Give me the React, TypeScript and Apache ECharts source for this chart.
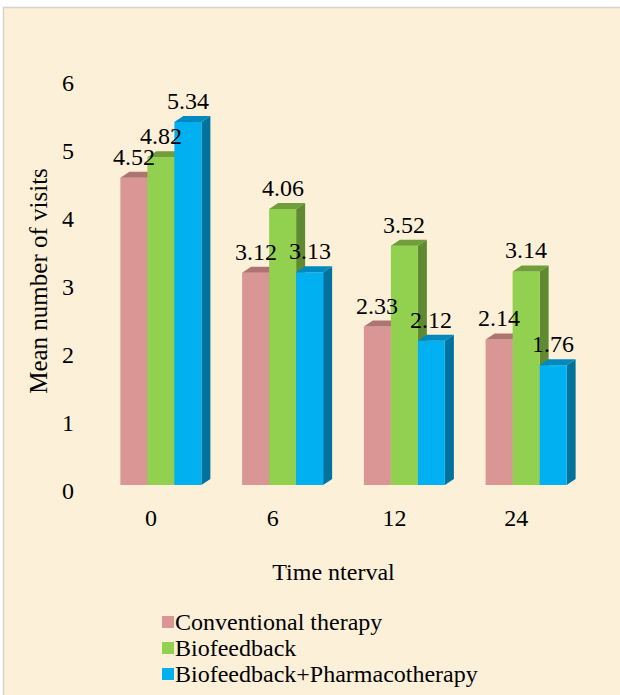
import React, { useEffect, useRef } from "react";
import * as echarts from "echarts";

const categories = ["0", "6", "12", "24"];
const seriesNames = ["Conventional therapy", "Biofeedback", "Biofeedback+Pharmacotherapy"];
const conventional = [4.52, 3.12, 2.33, 2.14];
const biofeedback = [4.82, 4.06, 3.52, 3.14];
const combined = [5.34, 3.13, 2.12, 1.76];
const yTicks = [0, 1, 2, 3, 4, 5, 6];

const FONT = "Liberation Serif, Times New Roman, serif";
const FS = 24;
const palette = [
  { front: "#D99694", top: "#AE7472", side: "#9A6463" },
  { front: "#92D050", top: "#6F9E3B", side: "#5F8A31" },
  { front: "#00B0F0", top: "#0089BF", side: "#00729E" },
];

const BW = 27;
const DX = 9;
const DY = 6;
const SHIFT = 10;

function barSeries(name: string, values: number[], idx: number) {
  const col = palette[idx];
  return {
    type: "custom",
    name,
    itemStyle: { color: col.front },
    data: values.map((v, i) => [i, v]),
    renderItem: (params: any, api: any) => {
      const cat = api.value(0);
      const val = api.value(1);
      const base = api.coord([cat, 0]);
      const top = api.coord([cat, val]);
      const x0 = base[0] - 1.5 * BW + SHIFT + idx * BW;
      const x1 = x0 + BW;
      const yb = base[1];
      const yt = top[1];
      return {
        type: "group",
        children: [
          {
            type: "polygon",
            shape: { points: [[x1, yb], [x1 + DX, yb - DY], [x1 + DX, yt - DY], [x1, yt]] },
            style: { fill: col.side },
          },
          {
            type: "rect",
            shape: { x: x0, y: yt, width: BW, height: yb - yt },
            style: { fill: col.front },
          },
          {
            type: "polygon",
            shape: { points: [[x0, yt], [x0 + DX, yt - DY], [x1 + DX, yt - DY], [x1, yt]] },
            style: { fill: col.top },
          },
          {
            type: "text",
            z2: 100,
            x: Math.round((x0 + x1) / 2),
            y: Math.round(yt - 21),
            style: {
              text: val.toFixed(2),
              align: "center",
              verticalAlign: "middle",
              fontFamily: "Liberation Serif",
              fontSize: FS,
              fontWeight: "normal",
              fill: "#000000",
              opacity: 1,
              stroke: "none",
              lineWidth: 0,
            },
          },
        ],
      };
    },
  };
}

export default function App() {
  const ref = useRef<HTMLDivElement>(null);
  useEffect(() => {
    if (!ref.current) return;
    const chart = echarts.init(ref.current, null, { renderer: "svg" });
    chart.setOption({
      animation: false,
      backgroundColor: "#ffffff",
      graphic: [
        {
          type: "rect",
          z: -10,
          silent: true,
          shape: { x: 3.5, y: 7.5, width: 630, height: 700 },
          style: { fill: "#FCF0D9", stroke: "#D4D4D4", lineWidth: 1.5 },
        },
      ],
      textStyle: { fontFamily: FONT, color: "#000" },
      grid: { left: 90, right: 43, top: 77, bottom: 210, containLabel: false },
      legend: {
        orient: "vertical",
        left: 157,
        top: 605,
        itemGap: 2,
        itemWidth: 12,
        itemHeight: 12,
        icon: "rect",
        textStyle: { fontFamily: FONT, fontSize: FS, color: "#000", padding: [0, 0, 0, -4] },
        data: seriesNames,
      },
      xAxis: {
        type: "category",
        data: categories,
        name: "Time nterval",
        nameLocation: "middle",
        nameGap: 75,
        nameTextStyle: { fontFamily: FONT, fontSize: FS, color: "#000" },
        axisLine: { show: false },
        axisTick: { show: false },
        axisLabel: { margin: 21, fontFamily: FONT, fontSize: FS, color: "#000" },
        splitLine: { show: false },
      },
      yAxis: {
        type: "value",
        min: yTicks[0],
        max: yTicks[yTicks.length - 1],
        interval: 1,
        name: "Mean number of visits",
        nameLocation: "middle",
        nameGap: 37,
        nameTextStyle: { fontFamily: FONT, fontSize: 25, color: "#000" },
        axisLine: { show: false },
        axisTick: { show: false },
        splitLine: { show: false },
        axisLabel: {
          margin: 16,
          fontFamily: FONT,
          fontSize: FS,
          color: "#000",
          verticalAlign: "top",
          lineHeight: 12,
        },
      },
      series: [
        barSeries(seriesNames[0], conventional, 0),
        barSeries(seriesNames[1], biofeedback, 1),
        barSeries(seriesNames[2], combined, 2),
      ],
    });
    return () => chart.dispose();
  }, []);
  return (
    <div
      ref={ref}
      style={{ position: "absolute", left: 0, top: 0, width: 620, height: 695 }}
    />
  );
}
